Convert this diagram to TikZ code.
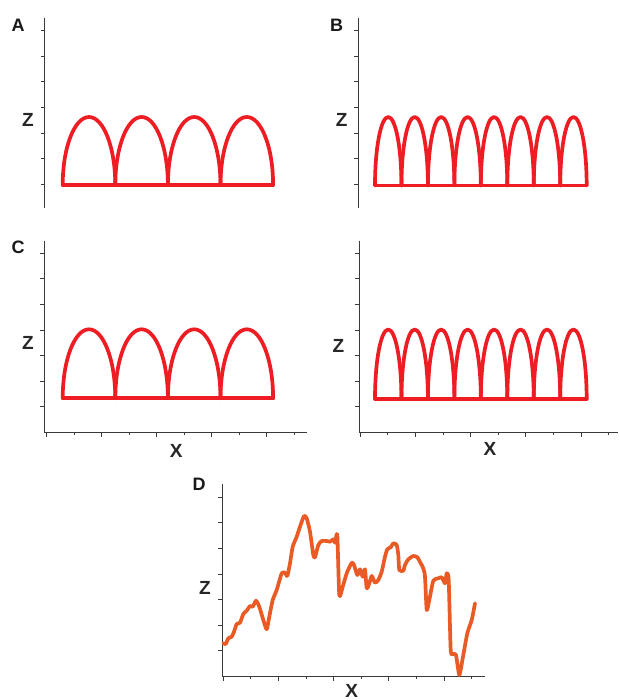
\documentclass[tikz,border=0pt]{standalone}
\usepackage{fontspec}
\setmainfont{Liberation Sans}
\definecolor{archred}{HTML}{EE1D23}
\definecolor{curveorange}{HTML}{EA5A24}
\definecolor{axisgray}{HTML}{3A3A3A}
\begin{document}
\begin{tikzpicture}[x=1pt,y=1pt,
  axisline/.style={draw=axisgray,line width=0.9pt},
  archline/.style={draw=archred,line width=3.7pt,line join=round,line cap=round},
  curveline/.style={draw=curveorange,line width=3.7pt,line join=round,line cap=round},
  panellabel/.style={font=\fontsize{18}{18}\selectfont\bfseries,text=black!90,inner sep=0pt},
  zlabel/.style={font=\fontsize{19}{19}\selectfont\bfseries,text=black!85,inner sep=0pt},
  xlabel/.style={font=\fontsize{19}{19}\selectfont\bfseries,text=black!85,inner sep=0pt}]
\useasboundingbox[fill=white] (0,0) rectangle (619,-700);

% y-axis with ticks: #1 x, #2 top, #3 bottom, #4 first tick y, #5 spacing
\newcommand\yaxisticks[5]{%
  \draw[axisline] (#1,-#2) -- (#1,-#3);
  \foreach \k in {0,...,6} {\draw[axisline] (#1,{-(#4+\k*#5)}) -- ++(-4,0);}
}
% x-axis with ticks: #1 y, #2 left, #3 right, #4 first tick x, #5 spacing
\newcommand\xaxisticks[5]{%
  \draw[axisline] (#2,-#1) -- (#3,-#1);
  \foreach \k in {0,2,4,6,8} {\draw[axisline] ({#4+\k*#5},-#1) -- ++(0,-5);}
  \foreach \k in {1,3,5,7,9} {\draw[axisline] ({#4+\k*#5},-#1) -- ++(0,-3);}
}
% row of arches: #1 left x, #2 count, #3 width, #4 base y, #5 height
\newcommand\archrow[5]{%
  \draw[archline] (#1,-#4) -- ++({#2*#3},0);
  \foreach \i in {1,...,#2} {\draw[archline] ({#1+(\i-1)*#3},-#4) arc[start angle=180,end angle=0,x radius={#3/2},y radius=#5];}
}

% Panel A
\yaxisticks{44.5}{18}{208}{30.7}{25.6}
\archrow{62.7}{4}{52.6}{185}{68}
\node[panellabel] (labA) at (18,-25) {A};
\node[zlabel] (zA) at (28,-120) {Z};

% Panel B
\yaxisticks{358.3}{18}{208}{30.7}{25.6}
\archrow{375}{8}{26.46}{185.5}{68.5}
\node[panellabel] (labB) at (336.7,-25) {B};
\node[zlabel] (zB) at (341.7,-120) {Z};

% Panel C
\yaxisticks{44.3}{240.7}{432.3}{253.3}{25.57}
\xaxisticks{432.3}{44.3}{307}{46.7}{27.5}
\archrow{62.7}{4}{52.6}{398.3}{69}
\node[panellabel] (labC) at (18,-247) {C};
\node[zlabel] (zC) at (28,-343) {Z};
\node[xlabel] (xC) at (176.3,-451.3) {X};

% Panel C right
\yaxisticks{359}{240.7}{432.3}{253.3}{25.57}
\xaxisticks{432.3}{359}{618}{360}{27.65}
\archrow{375}{8}{26.46}{399}{69.5}
\node[zlabel] (zCr) at (338.3,-346) {Z};
\node[xlabel] (xCr) at (490,-448.5) {X};

% Panel D
\yaxisticks{222.3}{484}{676}{497.3}{25.6}
\xaxisticks{676}{222.3}{485}{223.3}{27.6}
\node[panellabel] (labD) at (199.2,-484) {D};
\node[zlabel] (zD) at (205,-587.5) {Z};
\node[xlabel] (xD) at (351.7,-690.5) {X};

\draw[curveline] plot[smooth,tension=0.35] coordinates {
(223.3,-643.3) (225.7,-644) (228.3,-638.3) (231.7,-636.7) (234,-631.7) (236.7,-624)
(240,-622.7) (243.3,-614) (246.7,-610.7) (250,-606) (252.7,-606.7) (256,-600.7)
(259.3,-606.7) (263.3,-620) (266.7,-629.3) (269.3,-616.7) (272.7,-600) (276.7,-590)
(281.7,-573.3) (285,-572.7) (287.3,-576) (290,-563.3) (292.7,-546.7) (296.7,-536.7)
(300,-526.7) (304,-516) (306.7,-518.3) (310,-531.7) (313.3,-555) (315,-557.3)
(318.3,-545) (321.7,-541) (326.7,-541) (330,-541.7) (333.3,-539.3) (335,-542.7)
(337.3,-535) (339.3,-595) (342.7,-586.7) (346.7,-573.3) (351.7,-562.7) (354,-565)
(357.3,-575) (360,-569.3) (362.7,-576.7) (365,-569.3) (366.7,-588.3) (369.3,-583.3)
(371.7,-576) (375,-582.7) (378.3,-580) (381.7,-571.7) (385,-556.7) (387.3,-549.3)
(390.7,-547.3) (393.3,-543.3) (396.7,-545) (398.3,-555) (399.3,-570) (403.3,-570.7)
(405,-565) (408.3,-559.3) (413.3,-556) (417.3,-557.3) (420.7,-563.3) (423.3,-568.3)
(425,-576.7) (426.7,-610) (429.3,-600) (433.3,-580.7) (438.3,-578.3) (441.7,-577.3)
(445,-583.3) (446.7,-573.3) (448.7,-580) (450.7,-650) (453.3,-654) (456,-655)
(459.3,-675) (462.7,-658.3) (467.3,-633.3) (471.7,-620) (475,-603.3)};
\end{tikzpicture}
\end{document}
